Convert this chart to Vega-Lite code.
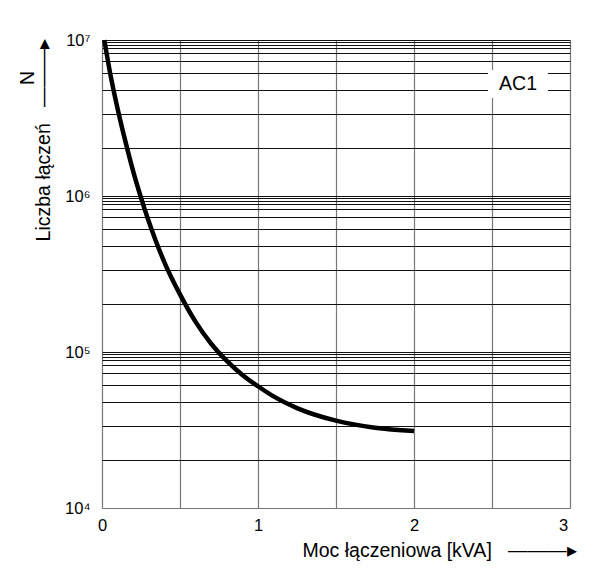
{
  "$schema": "https://vega.github.io/schema/vega-lite/v6.json",
  "width": 468,
  "height": 468,
  "autosize": {"type": "none"},
  "padding": {"left": 102, "top": 40, "right": 26, "bottom": 76},
  "background": "white",
  "config": {
    "view": {"stroke": null},
    "font": "Liberation Sans",
    "axis": {"labelFont": "Liberation Sans", "titleFont": "Liberation Sans", "labelColor": "#000", "titleColor": "#000", "titleFontWeight": "normal"}
  },
  "datasets": {
    "curve": [
      {"P": 0.015, "N": 10000000},
      {"P": 0.05, "N": 6300000},
      {"P": 0.1, "N": 3630000},
      {"P": 0.15, "N": 2240000},
      {"P": 0.2, "N": 1440000},
      {"P": 0.25, "N": 977000},
      {"P": 0.3, "N": 686000},
      {"P": 0.35, "N": 500000},
      {"P": 0.4, "N": 376000},
      {"P": 0.5, "N": 234000},
      {"P": 0.6, "N": 156000},
      {"P": 0.7, "N": 113000},
      {"P": 0.8, "N": 87700},
      {"P": 0.9, "N": 71300},
      {"P": 1.0, "N": 60300},
      {"P": 1.1, "N": 51900},
      {"P": 1.25, "N": 43700},
      {"P": 1.5, "N": 36300},
      {"P": 1.75, "N": 32700},
      {"P": 2.0, "N": 31200}
    ],
    "label": [{"text": "AC1", "P": 2.667, "N": 5220000}]
  },
  "layer": [
    {
      "data": {"name": "curve"},
      "mark": {"type": "line", "color": "black", "strokeWidth": 4.5, "interpolate": "monotone", "strokeCap": "butt"},
      "encoding": {
        "x": {
          "field": "P", "type": "quantitative",
          "scale": {"domain": [0, 3], "nice": false, "zero": false},
          "axis": {
            "values": [0, 0.5, 1, 1.5, 2, 2.5, 3],
            "labelExpr": "datum.value % 1 == 0 ? '' + datum.value : ''",
            "title": "Moc łączeniowa [kVA]\u00a0\u00a0\u00a0———▸",
            "titleX": 200, "titleY": 48.5, "titleAlign": "left", "titleBaseline": "alphabetic", "titleAngle": 0,
            "titleFontSize": 19.5,
            "ticks": false, "domain": false,
            "grid": true, "gridColor": "#777", "gridWidth": 1.2,
            "labelFontSize": 16.5, "labelPadding": 9, "labelFlush": false,
            "labelOffset": {"condition": {"test": "datum.value == 3", "value": -7}, "value": 0}
          }
        },
        "y": {
          "field": "N", "type": "quantitative",
          "scale": {"type": "log", "domain": [10000, 10000000], "nice": false},
          "axis": {
            "values": [10000000, 9660000, 9330000, 8950000, 8280000, 7310000, 6120000, 4770000, 3340000, 2020000,
                       1000000, 966000, 933000, 895000, 828000, 731000, 612000, 477000, 334000, 202000,
                       100000, 96600, 93300, 89500, 82800, 73100, 61200, 47700, 33400, 20200, 10000],
            "labelExpr": "datum.value == 10000000 ? '10⁷' : datum.value == 1000000 ? '10⁶' : datum.value == 100000 ? '10⁵' : datum.value == 10000 ? '10⁴' : ''",
            "labelOverlap": false,
            "title": ["N\u00a0\u00a0\u00a0\u00a0\u00a0\u00a0\u200b", "Liczba łączeń\u00a0\u00a0\u00a0———▸"],
            "titleX": -69, "titleY": -2, "titleAlign": "right", "titleBaseline": "alphabetic", "titleAngle": -90,
            "titleLineHeight": 16, "titleFontSize": 19.5,
            "ticks": false, "domain": false,
            "grid": true,
            "gridColor": {"condition": {"test": "datum.value == 10000", "value": "#777"}, "value": "#111"},
            "gridWidth": 1,
            "labelFontSize": 16.5, "labelPadding": 12
          }
        }
      }
    },
    {
      "data": {"name": "label"},
      "mark": {"type": "point", "shape": "M-1,-0.467H1V0.467H-1Z", "size": 3600, "filled": true, "fill": "white", "stroke": null, "opacity": 1},
      "encoding": {
        "x": {"field": "P", "type": "quantitative"},
        "y": {"field": "N", "type": "quantitative"}
      }
    },
    {
      "data": {"name": "label"},
      "mark": {"type": "text", "font": "Liberation Sans", "fontSize": 19.5, "align": "center", "baseline": "middle", "color": "black"},
      "encoding": {
        "x": {"field": "P", "type": "quantitative"},
        "y": {"field": "N", "type": "quantitative"},
        "text": {"field": "text"}
      }
    }
  ]
}
